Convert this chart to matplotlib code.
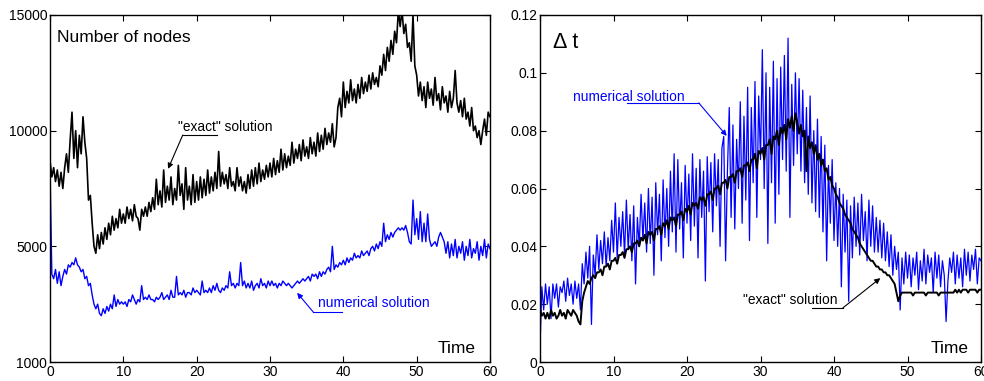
import numpy as np
import matplotlib
matplotlib.use("Agg")
import matplotlib.pyplot as plt

plt.rcParams['font.family'] = ['Liberation Sans', 'DejaVu Sans']

# time grid (sampling every 0.25 time units)
time = np.arange(0, 60.001, 0.25)

# Number of nodes, in units of 100 nodes
nodes_exact = [
    87, 80, 84, 78,   83, 76, 82, 75,   84, 90, 82, 96,   108, 88, 100, 84,
    98, 90, 106, 95,  88, 70, 72, 60,   50, 47, 55, 49,   56, 51, 58, 53,
    60, 55, 63, 57,   62, 58, 66, 60,   64, 60, 67, 62,   66, 61, 68, 63,
    62, 57, 66, 63,   67, 63, 69, 65,   71, 66, 79, 68,   74, 67, 83, 69,
    76, 70, 80, 68,   75, 70, 85, 72,   77, 66, 84, 70,   76, 68, 81, 69,
    78, 70, 80, 71,   79, 72, 83, 73,   80, 74, 82, 75,   91, 76, 82, 77,
    81, 75, 84, 76,   78, 74, 84, 76,   80, 74, 78, 73,   81, 75, 83, 76,
    84, 77, 86, 78,   83, 79, 85, 80,   86, 80, 88, 81,   87, 82, 92, 83,
    90, 84, 89, 85,   95, 86, 92, 88,   94, 87, 96, 89,   93, 88, 97, 90,
    95, 89, 99, 91,   98, 92, 101, 94,  99, 95, 103, 93,  97, 110, 114, 106,
    121, 110, 117, 112, 122, 113, 118, 112, 120, 114, 123, 116, 121, 117, 124, 118,
    125, 120, 123, 119, 128, 124, 133, 126, 136, 130, 139, 133, 143, 138, 152, 145,
    152, 142, 146, 136, 138, 130, 150, 128, 124, 115, 121, 113, 119, 110, 121, 114,
    118, 111, 123, 113, 116, 109, 119, 112, 115, 108, 117, 110, 114, 126, 112, 108,
    113, 106, 114, 105, 108, 102, 110, 100, 102, 97, 100, 94, 100, 105, 98, 108,
    106,
]
nodes_numerical = [
    84, 38, 36, 40,   34, 39, 33, 37,   40, 38, 42, 41,   43, 42, 45, 42,
    41, 39, 40, 36,   37, 33, 34, 29,   25, 23, 25, 21,   20, 23, 21, 24,
    22, 25, 23, 29,   24, 27, 25, 26,   25, 26, 24, 27,   26, 29, 27, 25,
    27, 26, 33, 27,   28, 27, 29, 27,   27, 26, 28, 27,   28, 30, 27, 28,
    29, 27, 31, 28,   28, 37, 29, 30,   29, 31, 28, 30,   30, 29, 32, 30,
    31, 30, 29, 35,   30, 31, 30, 32,   30, 33, 31, 34,   31, 30, 32, 31,
    33, 32, 39, 33,   34, 32, 34, 33,   43, 33, 35, 32,   34, 32, 35, 31,
    33, 34, 32, 36,   33, 34, 32, 35,   33, 35, 33, 34,   32, 34, 33, 35,
    34, 33, 34, 33,   32, 33, 34, 35,   34, 35, 36, 35,   36, 37, 35, 38,
    37, 38, 36, 39,   37, 39, 38, 40,   41, 39, 50, 40,   42, 41, 43, 42,
    44, 42, 45, 43,   45, 44, 47, 45,   46, 45, 48, 46,   47, 48, 46, 49,
    50, 48, 51, 49,   52, 50, 60, 52,   55, 53, 56, 54,   56, 57, 58, 57,
    58, 57, 59, 56,   52, 51, 70, 55,   62, 53, 65, 52,   60, 52, 64, 53,
    50, 51, 52, 50,   54, 56, 54, 52,   47, 52, 45, 51,   46, 53, 45, 50,
    47, 52, 44, 50,   46, 53, 45, 49,   47, 52, 44, 50,   46, 53, 45, 51,
    49,
]

# time step, in units of 0.001
dt_exact = [
    18, 16, 17, 15,   17, 15, 18, 16,   17, 15, 16, 18,   16, 17, 15, 18,
    17, 16, 18, 17,   16, 14, 13, 21,   24, 26, 28, 27,   29, 30, 29, 31,
    31, 32, 30, 33,   33, 34, 32, 35,   35, 36, 34, 37,   37, 38, 36, 39,
    39, 40, 38, 41,   41, 42, 40, 43,   42, 44, 41, 45,   44, 45, 42, 46,
    46, 47, 44, 48,   47, 49, 46, 50,   49, 50, 47, 51,   51, 52, 49, 53,
    52, 54, 51, 55,   54, 55, 53, 57,   56, 57, 54, 58,   58, 59, 56, 60,
    60, 61, 58, 62,   62, 63, 60, 64,   64, 65, 62, 66,   66, 67, 64, 68,
    68, 69, 66, 70,   70, 72, 67, 73,   72, 74, 70, 75,   75, 77, 72, 78,
    77, 80, 75, 81,   79, 82, 77, 84,   81, 85, 80, 86,   83, 79, 82, 78,
    80, 66, 78, 74,   76, 72, 75, 70,   72, 68, 70, 66,   67, 63, 64, 61,
    60, 58, 57, 55,   54, 53, 51, 50,   49, 48, 46, 45,   44, 43, 41, 40,
    39, 38, 37, 36,   35, 35, 34, 33,   33, 32, 32, 31,   31, 30, 30, 29,
    28, 27, 24, 21,   23, 24, 24, 24,   24, 24, 24, 23,   24, 24, 24, 24,
    24, 24, 23, 24,   24, 24, 24, 24,   24, 23, 24, 24,   24, 24, 24, 24,
    24, 24, 25, 24,   25, 24, 25, 25,   25, 24, 25, 25,   25, 25, 24, 25,
    25,
]
dt_numerical = [
    5, 26, 18, 27,    20, 26, 15, 27,   22, 27, 19, 26,   24, 28, 21, 29,
    23, 27, 20, 28,   22, 27, 18, 34,   27, 38, 29, 40,   13, 37, 30, 44,
    32, 42, 34, 45,   33, 43, 35, 49,   38, 55, 36, 50,   40, 52, 37, 56,
    39, 51, 35, 54,   27, 50, 40, 58,   42, 55, 38, 60,   41, 57, 30, 62,
    44, 58, 35, 63,   43, 60, 40, 66,   45, 72, 38, 70,   46, 62, 36, 68,
    48, 65, 42, 72,   47, 67, 36, 70,   50, 66, 28, 71,   52, 69, 45, 72,
    54, 70, 40, 74,   78, 35, 66, 88,   50, 82, 46, 77,   60, 90, 48, 85,
    56, 95, 42, 88,   62, 97, 50, 92,   70, 108, 60, 100, 41, 95, 62, 104,
    48, 98, 58, 102,  70, 106, 66, 112, 50, 96, 68, 100,  72, 98, 66, 94,
    62, 88, 58, 92,   55, 80, 52, 84,   50, 78, 45, 75,   35, 68, 48, 70,
    42, 62, 40, 60,   26, 58, 38, 56,   21, 54, 36, 57,   40, 55, 37, 58,
    42, 52, 35, 56,   40, 54, 38, 50,   38, 49, 36, 48,   35, 45, 33, 44,
    30, 40, 32, 38,   18, 36, 27, 38,   29, 37, 26, 36,   30, 38, 25, 35,
    28, 39, 27, 37,   31, 36, 24, 38,   29, 37, 26, 35,   30, 14, 28, 36,
    31, 38, 27, 37,   29, 36, 26, 39,   30, 38, 28, 37,   32, 39, 27, 36,
    35,
]

x_ticks = [0, 10, 20, 30, 40, 50, 60]
left_yticks = [0, 5000, 10000, 15000]
left_yticklabels = ['1000', '5000', '10000', '15000']
right_yticks = [0, 0.02, 0.04, 0.06, 0.08, 0.1, 0.12]
right_yticklabels = ['0', '0.02', '0.04', '0.06', '0.08', '0.1', '0.12']

BLUE = '#0000ff'

fig = plt.figure(figsize=(9.84, 3.81), dpi=100)
axL = fig.add_axes([50/984, 19/381, 440/984, 347/381])
axR = fig.add_axes([540/984, 19/381, 441/984, 347/381])

for ax in (axL, axR):
    ax.tick_params(direction='in', top=True, right=True, length=4, width=0.8,
                   labelsize=10)
    ax.tick_params(axis='y', pad=2)
    ax.tick_params(axis='x', pad=2.5)
    for s in ax.spines.values():
        s.set_linewidth(1.0)
    ax.set_xlim(0, 60)
    ax.set_xticks(x_ticks)

t = time
axL.plot(t, np.array(nodes_exact) * 100, color='black', lw=1.2)
axL.plot(t, np.array(nodes_numerical) * 100, color=BLUE, lw=1.0)
axL.set_ylim(0, 15000)
axL.set_yticks(left_yticks)
axL.set_yticklabels(left_yticklabels)
axL.text(0.017, 0.935, 'Number of nodes', transform=axL.transAxes, fontsize=12.5,
         va='center', ha='left')
axL.text(0.88, 0.04, 'Time', transform=axL.transAxes, fontsize=12.5,
         va='center', ha='left')

axR.plot(t, np.array(dt_numerical) * 0.001, color=BLUE, lw=0.9)
axR.plot(t, np.array(dt_exact) * 0.001, color='black', lw=1.4)
axR.set_ylim(0, 0.12)
axR.set_yticks(right_yticks)
axR.set_yticklabels(right_yticklabels)
axR.text(0.03, 0.92, 'Δ t', transform=axR.transAxes, fontsize=15.5,
         va='center', ha='left')
axR.text(0.885, 0.04, 'Time', transform=axR.transAxes, fontsize=12.5,
         va='center', ha='left')

ap = dict(arrowstyle='-|>', lw=0.8, mutation_scale=8, shrinkA=0, shrinkB=0)

# left: exact
axL.text(17.4, 10150, '"exact" solution', fontsize=9.9, va='center', ha='left')
axL.plot([18.1, 22.8], [9810, 9810], color='black', lw=0.8)
axL.annotate('', xy=(16.1, 8350), xytext=(18.1, 9810),
             arrowprops=dict(ap, color='black'))
# left: numerical
axL.text(36.5, 2550, 'numerical solution', fontsize=9.9, va='center', ha='left',
         color=BLUE)
axL.plot([35.9, 39.8], [2160, 2160], color=BLUE, lw=0.8)
axL.annotate('', xy=(33.7, 2990), xytext=(35.9, 2160),
             arrowprops=dict(ap, color=BLUE))

# right: numerical
axR.text(4.5, 0.0918, 'numerical solution', fontsize=9.9, va='center', ha='left',
         color=BLUE)
axR.plot([11.8, 21.6], [0.0896, 0.0896], color=BLUE, lw=0.8)
axR.annotate('', xy=(25.4, 0.0782), xytext=(21.6, 0.0896),
             arrowprops=dict(ap, color=BLUE))
# right: exact
axR.text(27.6, 0.0214, '"exact" solution', fontsize=9.9, va='center', ha='left')
axR.plot([37.0, 41.2], [0.0187, 0.0187], color='black', lw=0.8)
axR.annotate('', xy=(46.3, 0.0290), xytext=(41.2, 0.0187),
             arrowprops=dict(ap, color='black'))

fig.savefig('out.png', dpi=100)
